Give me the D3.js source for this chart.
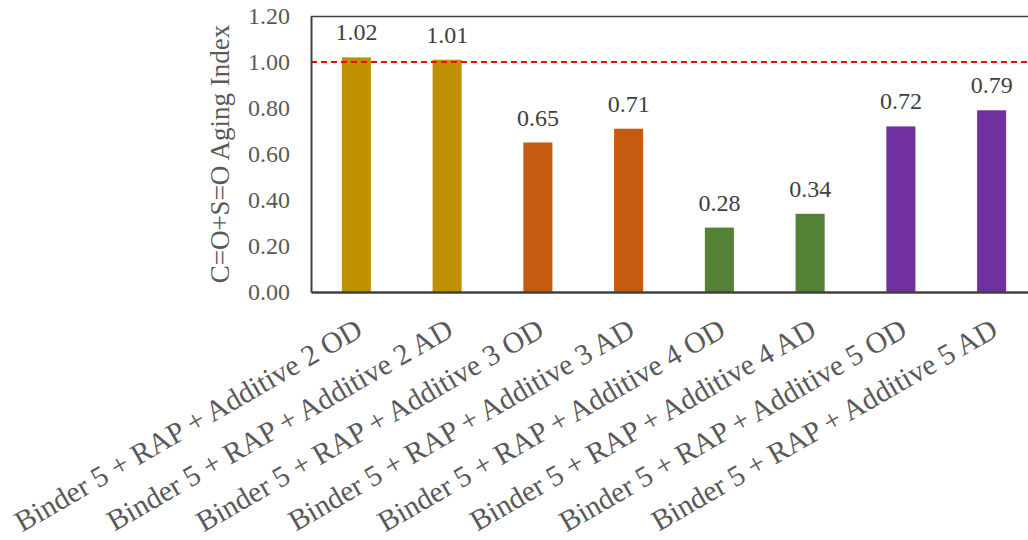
<!DOCTYPE html>
<html><head><meta charset="utf-8">
<script src="https://cdn.jsdelivr.net/npm/d3@7"></script>
<style>body{margin:0;background:#fff}svg{display:block}</style>
</head><body>
<svg id="c" width="1028" height="540"></svg>
<script>
const categories = ["Binder 5 + RAP + Additive 2 OD","Binder 5 + RAP + Additive 2 AD","Binder 5 + RAP + Additive 3 OD","Binder 5 + RAP + Additive 3 AD","Binder 5 + RAP + Additive 4 OD","Binder 5 + RAP + Additive 4 AD","Binder 5 + RAP + Additive 5 OD","Binder 5 + RAP + Additive 5 AD"];
const values = [1.02, 1.01, 0.65, 0.71, 0.28, 0.34, 0.72, 0.79];
const colors = ["#BF9000","#BF9000","#C55A11","#C55A11","#538135","#538135","#7030A0","#7030A0"];
const yTicks = [0, 0.2, 0.4, 0.6, 0.8, 1.0, 1.2];
const refValue = 1.0;
const yTitle = "C=O+S=O Aging Index";

const svg = d3.select("#c");
const L = 311, R = 1037, T = 16, B = 292;
const font = "'Liberation Serif','Times New Roman',serif";
const x = d3.scaleBand().domain(categories).range([L, R]).paddingInner(0.68).paddingOuter(0.34);
const y = d3.scaleLinear().domain([0, 1.2]).range([B, T]);

// bars
svg.selectAll("rect.bar").data(values).enter().append("rect")
  .attr("x", (d,i)=>x(categories[i]))
  .attr("width", x.bandwidth())
  .attr("y", d=>y(d)).attr("height", d=>B - y(d))
  .attr("fill", (d,i)=>colors[i]);

// data labels
svg.selectAll("text.lbl").data(values).enter().append("text")
  .attr("x", (d,i)=>x(categories[i]) + x.bandwidth()/2)
  .attr("y", d=>y(d) - 17)
  .attr("text-anchor","middle")
  .attr("font-family", font).attr("font-size", 24).attr("fill","#404040")
  .text(d=>d.toFixed(2));

// reference line
svg.append("line").attr("x1", L).attr("x2", 1028).attr("y1", y(refValue)).attr("y2", y(refValue))
  .attr("stroke","#FF0000").attr("stroke-width",2).attr("stroke-dasharray","6,4");

// top border
svg.append("line").attr("x1", L).attr("x2", 1028).attr("y1", T+0.5).attr("y2", T+0.5)
  .attr("stroke","#404040").attr("stroke-width",1.5);

// y axis
const yAxis = d3.axisLeft(y).tickValues(yTicks).tickFormat(d3.format(".2f")).tickSize(0).tickPadding(21);
const gy = svg.append("g").attr("transform", `translate(${L},0)`).call(yAxis);
gy.select(".domain").attr("stroke","#404040").attr("stroke-width",2);
gy.selectAll("text").attr("font-family", font).attr("font-size", 24).attr("fill","#595959");

// x axis
const xAxis = d3.axisBottom(x).tickSize(0).tickPadding(0);
const gx = svg.append("g").attr("transform", `translate(0,${B})`).call(xAxis);
gx.select(".domain").attr("stroke","#404040").attr("stroke-width",2.5);
gx.selectAll(".tick text")
  .attr("font-family", font).attr("font-size", 29.5).attr("fill","#595959")
  .attr("text-anchor","end").attr("dy", null).attr("y", 0)
  .attr("transform","translate(8,43) rotate(-30)");

// y title
svg.append("text")
  .attr("transform", `translate(229,${(T+B)/2}) rotate(-90)`)
  .attr("text-anchor","middle")
  .attr("font-family", font).attr("font-size", 27).attr("fill","#595959")
  .text(yTitle);
</script>
</body></html>
